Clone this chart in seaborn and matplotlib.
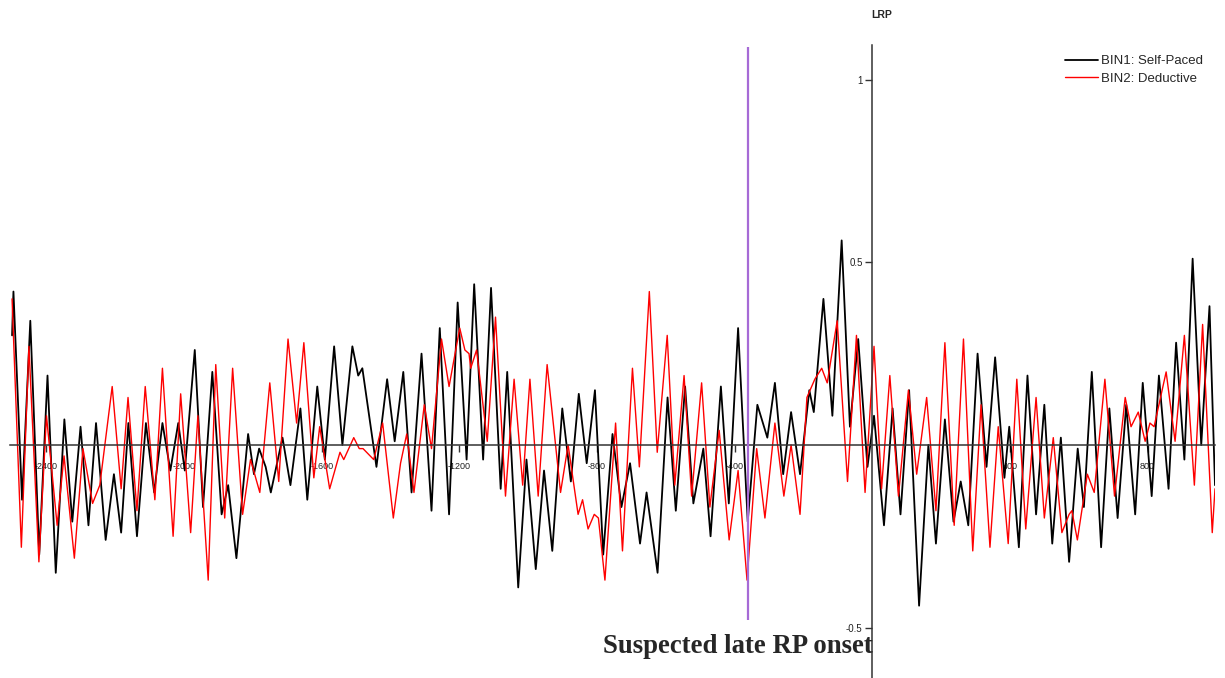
import pandas as pd
import seaborn as sns
import matplotlib.pyplot as plt

# =====================================================
# DATA (ms, microvolt-ish)
# =====================================================

bin1_t = [-2500, -2496, -2471, -2447, -2421, -2397, -2373, -2348, -2325, -2301,
          -2278, -2256, -2228, -2204, -2183, -2162, -2137, -2111, -2087, -2063,
          -2040, -2017, -1998, -1969, -1945, -1918, -1891, -1872, -1848, -1814,
          -1797, -1782, -1763, -1748, -1714, -1691, -1662, -1642, -1613, -1591,
          -1564, -1540, -1511, -1494, -1482, -1441, -1410, -1388, -1363, -1339,
          -1310, -1281, -1257, -1230, -1205, -1179, -1157, -1131, -1108, -1080,
          -1061, -1029, -1005, -978, -954, -930, -901, -876, -853, -830,
          -806, -782, -755, -729, -704, -675, -656, -624, -595, -571,
          -544, -520, -491, -470, -440, -417, -390, -362, -334, -305,
          -283, -259, -236, -210, -183, -170, -142, -116, -89, -65,
          -41, -14, 5, 34, 59, 82, 107, 136, 163, 185,
          211, 236, 257, 279, 306, 332, 357, 384, 398, 426,
          451, 476, 500, 523, 548, 572, 597, 615, 638, 665,
          689, 713, 738, 764, 786, 812, 833, 861, 883, 907,
          931, 956, 980, 996]
bin1_v = [0.30, 0.42, -0.15, 0.34, -0.30, 0.19, -0.35, 0.07, -0.21, 0.05,
          -0.22, 0.06, -0.26, -0.08, -0.24, 0.06, -0.25, 0.06, -0.13, 0.06,
          -0.07, 0.06, -0.07, 0.26, -0.17, 0.20, -0.19, -0.11, -0.31, 0.03,
          -0.08, -0.01, -0.06, -0.13, 0.02, -0.11, 0.10, -0.15, 0.16, -0.04,
          0.27, 0.00, 0.27, 0.19, 0.21, -0.06, 0.18, 0.01, 0.20, -0.13,
          0.25, -0.18, 0.32, -0.19, 0.39, -0.04, 0.44, -0.04, 0.43, -0.12,
          0.20, -0.39, -0.04, -0.34, -0.07, -0.29, 0.10, -0.10, 0.14, -0.05,
          0.15, -0.30, 0.03, -0.17, -0.05, -0.27, -0.13, -0.35, 0.13, -0.18,
          0.16, -0.16, -0.01, -0.25, 0.16, -0.16, 0.32, -0.21, 0.11, 0.02,
          0.17, -0.08, 0.09, -0.08, 0.15, 0.09, 0.40, 0.08, 0.56, 0.05,
          0.29, -0.06, 0.08, -0.22, 0.10, -0.19, 0.15, -0.44, 0.00, -0.27,
          0.07, -0.21, -0.10, -0.22, 0.25, -0.06, 0.24, -0.09, 0.05, -0.28,
          0.19, -0.19, 0.11, -0.27, 0.02, -0.32, -0.01, -0.17, 0.20, -0.28,
          0.10, -0.20, 0.11, -0.19, 0.17, -0.14, 0.19, -0.12, 0.28, -0.04,
          0.51, 0.00, 0.38, -0.11]

bin2_t = [-2500, -2473, -2451, -2422, -2400, -2369, -2349, -2319, -2294, -2266,
          -2245, -2209, -2183, -2163, -2137, -2113, -2085, -2063, -2032, -2010,
          -1981, -1960, -1930, -1908, -1882, -1859, -1830, -1807, -1780, -1751,
          -1725, -1698, -1673, -1652, -1623, -1606, -1577, -1547, -1536, -1507,
          -1491, -1480, -1449, -1423, -1392, -1371, -1353, -1332, -1302, -1281,
          -1252, -1230, -1199, -1184, -1172, -1167, -1150, -1119, -1095, -1066,
          -1041, -1016, -995, -971, -945, -906, -884, -855, -842, -826,
          -808, -796, -777, -746, -726, -697, -677, -648, -625, -596,
          -574, -547, -525, -496, -472, -445, -416, -390, -364, -336,
          -312, -283, -257, -236, -210, -190, -167, -147, -131, -102,
          -72, -46, -21, 5, 27, 51, 76, 105, 129, 158,
          185, 211, 238, 265, 292, 316, 342, 366, 395, 420,
          446, 476, 500, 526, 551, 572, 580, 596, 625, 645,
          676, 704, 735, 752, 773, 793, 807, 819, 854, 880,
          907, 936, 960, 988, 996]
bin2_v = [0.40, -0.28, 0.27, -0.32, 0.08, -0.22, -0.03, -0.31, -0.01, -0.16,
          -0.11, 0.16, -0.12, 0.13, -0.18, 0.16, -0.15, 0.21, -0.25, 0.14,
          -0.24, 0.08, -0.37, 0.22, -0.20, 0.21, -0.19, -0.04, -0.13, 0.17,
          -0.10, 0.29, 0.06, 0.28, -0.09, 0.05, -0.12, -0.02, -0.04, 0.02,
          -0.01, -0.01, -0.04, 0.06, -0.20, -0.05, 0.03, -0.13, 0.11, -0.01,
          0.29, 0.16, 0.32, 0.26, 0.25, 0.21, 0.26, 0.01, 0.35, -0.14,
          0.18, -0.11, 0.18, -0.14, 0.22, -0.13, 0.00, -0.19, -0.15, -0.23,
          -0.19, -0.20, -0.37, 0.06, -0.29, 0.21, -0.06, 0.42, -0.02, 0.30,
          -0.11, 0.19, -0.14, 0.17, -0.17, 0.04, -0.26, -0.07, -0.37, -0.01,
          -0.20, 0.06, -0.14, 0.00, -0.19, 0.13, 0.18, 0.21, 0.17, 0.34,
          -0.10, 0.30, -0.13, 0.27, -0.12, 0.19, -0.14, 0.15, -0.08, 0.13,
          -0.18, 0.28, -0.22, 0.29, -0.29, 0.11, -0.28, 0.05, -0.27, 0.18,
          -0.23, 0.13, -0.20, 0.02, -0.24, -0.19, -0.18, -0.26, -0.08, -0.13,
          0.18, -0.14, 0.13, 0.05, 0.09, 0.01, 0.06, 0.05, 0.20, 0.01,
          0.30, -0.11, 0.33, -0.24, -0.12]

series_names = ["BIN1: Self-Paced", "BIN2: Deductive"]
series_colors = ["black", "red"]

x_ticks = [-2400, -2000, -1600, -1200, -800, -400, 400, 800]
y_ticks = [-0.5, 0.5, 1]
y_tick_labels = ["-0.5", "0.5", "1"]

onset_ms = -360
onset_span = (-0.48, 1.09)

# =====================================================
# LONG-FORM TABLE
# =====================================================

df = pd.concat([
    pd.DataFrame({"time": bin1_t, "value": bin1_v, "bin": series_names[0]}),
    pd.DataFrame({"time": bin2_t, "value": bin2_v, "bin": series_names[1]}),
], ignore_index=True)

# =====================================================
# FIGURE
# =====================================================

sns.set_style("white")
plt.rcParams["font.family"] = ["Liberation Sans", "DejaVu Sans"]
plt.rcParams["axes.unicode_minus"] = False

W, H = 1225, 678
fig = plt.figure(figsize=(W / 100, H / 100), dpi=100)
ax = fig.add_axes([10 / W, 0, 1205 / W, 633 / H])

sns.lineplot(
    data=df, x="time", y="value", hue="bin",
    palette=dict(zip(series_names, series_colors)),
    estimator=None, sort=False, linewidth=1.1,
    legend=False, ax=ax,
)

# black trace a touch heavier than the red one
ax.lines[0].set_linewidth(1.3)
ax.lines[1].set_linewidth(1.0)
for ln in ax.lines[:2]:
    ln.set_solid_joinstyle("round")

ax.vlines(onset_ms, *onset_span, color="#a66ad6", linewidth=1.6, zorder=3)

ax.set_xlim(-2506, 996)
ax.set_ylim(-0.638, 1.095)
ax.set_xlabel("")
ax.set_ylabel("")

for side in ["top", "right"]:
    ax.spines[side].set_visible(False)
for side in ["left", "bottom"]:
    ax.spines[side].set_position(("data", 0))
    ax.spines[side].set_color("#333333")
    ax.spines[side].set_linewidth(1.1)

ax.set_xticks(x_ticks)
ax.set_xticklabels([str(t) for t in x_ticks])
ax.set_yticks(y_ticks)
ax.set_yticklabels(y_tick_labels)
ax.tick_params(axis="x", direction="out", length=5, width=1, pad=7,
               labelsize=6.5, colors="#333333", labelcolor="#222222",
               bottom=True)
ax.tick_params(axis="y", direction="out", length=5, width=1, pad=2,
               labelsize=7, colors="#333333", labelcolor="#222222",
               left=True)

# =====================================================
# LEGEND + TEXT
# =====================================================

ax.legend(
    handles=ax.lines[:2], labels=series_names,
    loc="upper right", bbox_to_anchor=(1203 / W, 1 - 55 / H),
    bbox_transform=fig.transFigure, frameon=False, fontsize=9.5,
    handlelength=2.5, handletextpad=0.2, labelspacing=0.42,
    borderpad=0, borderaxespad=0,
)

fig.text(882 / W, 1 - 15 / H, "LRP", ha="center", va="center",
         fontsize=7.5, fontweight="bold")

fig.text(738 / W, 1 - 653 / H, "Suspected late RP onset",
         ha="center", va="baseline", fontsize=19.3, fontweight="bold",
         family=["Liberation Serif", "DejaVu Serif"])

plt.savefig("out.png", dpi=100)
plt.close()
